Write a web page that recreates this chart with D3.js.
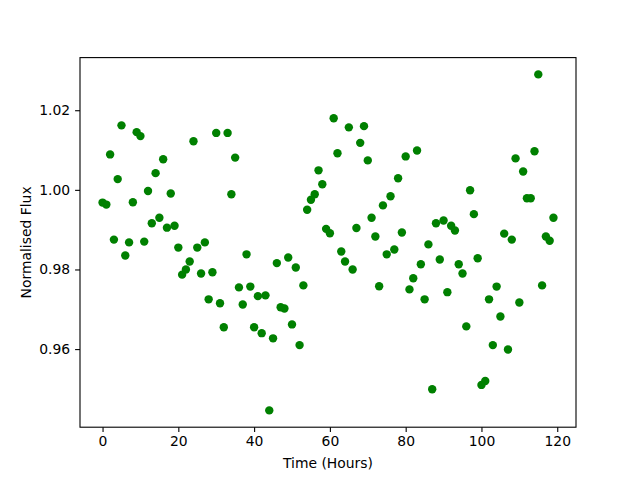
<!DOCTYPE html>
<html>
<head>
<meta charset="utf-8">
<script src="https://cdn.jsdelivr.net/npm/d3@7"></script>
<style>
  body { margin: 0; background: #fff; }
  text { font-family: "DejaVu Sans", sans-serif; }
</style>
</head>
<body>
<div id="chart"></div>
<script>
// time in hours, one reading per hour
var hours = d3.range(0, 120);

// normalised flux
var flux = [
  0.9968, 0.9963, 1.0089, 0.9875, 1.0027, 1.0162, 0.9835, 0.9868, 0.9969, 1.0145,
  1.0135, 0.9870, 0.9997, 0.9916, 1.0042, 0.9930, 1.0077, 0.9905, 0.9991, 0.9910,
  0.9855, 0.9787, 0.9800, 0.9820, 1.0122, 0.9855, 0.9790, 0.9868, 0.9725, 0.9793,
  1.0143, 0.9715, 0.9655, 1.0143, 0.9989, 1.0081, 0.9755, 0.9712, 0.9838, 0.9757,
  0.9655, 0.9733, 0.9640, 0.9735, 0.9446, 0.9627, 0.9816, 0.9705, 0.9702, 0.9830,
  0.9662, 0.9805, 0.9610, 0.9760, 0.9950, 0.9975, 0.9989, 1.0049, 1.0014, 0.9902,
  0.9891, 1.0180, 1.0092, 0.9845, 0.9820, 1.0157, 0.9800, 0.9904, 1.0118, 1.0160,
  1.0074, 0.9930, 0.9883, 0.9758, 0.9961, 0.9838, 0.9984, 0.9850, 1.0029, 0.9893,
  1.0084, 0.9750, 0.9778, 1.0099, 0.9813, 0.9725, 0.9863, 0.9499, 0.9916, 0.9825,
  0.9923, 0.9743, 0.9910, 0.9898, 0.9813, 0.9790, 0.9657, 0.9999, 0.9939, 0.9828,
  0.9510, 0.9520, 0.9725, 0.9610, 0.9757, 0.9682, 0.9890, 0.9599, 0.9875, 1.0079,
  0.9717, 1.0046, 0.9979, 0.9979, 1.0097, 1.0290, 0.9760, 0.9883, 0.9872, 0.9930
];

var xTicks = [0, 20, 40, 60, 80, 100, 120];
var yTicks = [0.96, 0.98, 1.00, 1.02];

var W = 640, H = 480;
// plot box (window.top is taken, so use other names)
var boxL = 80, boxR = 576, boxT = 57.6, boxB = 427.2;

var svg = d3.select("#chart").append("svg")
  .attr("width", W)
  .attr("height", H);

// matplotlib style 5% margins round the data
var xmin = d3.min(hours), xmax = d3.max(hours);
var ymin = d3.min(flux), ymax = d3.max(flux);
var xpad = (xmax - xmin) * 0.05, ypad = (ymax - ymin) * 0.05;

var x = d3.scaleLinear().domain([xmin - xpad, xmax + xpad]).range([boxL, boxR]);
var y = d3.scaleLinear().domain([ymin - ypad, ymax + ypad]).range([boxB, boxT]);

var points = hours.map(function (h, i) { return { t: h, f: flux[i] }; });

svg.append("g")
  .selectAll("circle")
  .data(points)
  .enter().append("circle")
    .attr("cx", function (d) { return x(d.t); })
    .attr("cy", function (d) { return y(d.f); })
    .attr("r", 4.2)
    .attr("fill", "#008000");

// axes
var xAxis = svg.append("g")
  .attr("transform", "translate(0," + boxB + ")")
  .call(d3.axisBottom(x).tickValues(xTicks).tickSize(4.9).tickPadding(4.2).tickFormat(d3.format("d")));

var yAxis = svg.append("g")
  .attr("transform", "translate(" + boxL + ",0)")
  .call(d3.axisLeft(y).tickValues(yTicks).tickSize(4.9).tickPadding(4.9).tickFormat(d3.format(".2f")));

[xAxis, yAxis].forEach(function (g) {
  g.select(".domain").remove();
  g.selectAll(".tick line").attr("stroke", "#000").attr("stroke-width", 1.1);
  g.selectAll(".tick text").attr("fill", "#000").style("font-size", "13.9px");
});

// frame
svg.append("rect")
  .attr("x", boxL)
  .attr("y", boxT)
  .attr("width", boxR - boxL)
  .attr("height", boxB - boxT)
  .attr("fill", "none")
  .attr("stroke", "#000")
  .attr("stroke-width", 1.1);

svg.append("text")
  .attr("x", (boxL + boxR) / 2)
  .attr("y", 468)
  .attr("text-anchor", "middle")
  .style("font-size", "13.9px")
  .text("Time (Hours)");

svg.append("text")
  .attr("transform", "translate(31," + (boxT + boxB) / 2 + ") rotate(-90)")
  .attr("text-anchor", "middle")
  .style("font-size", "13.9px")
  .text("Normalised Flux");
</script>
</body>
</html>
